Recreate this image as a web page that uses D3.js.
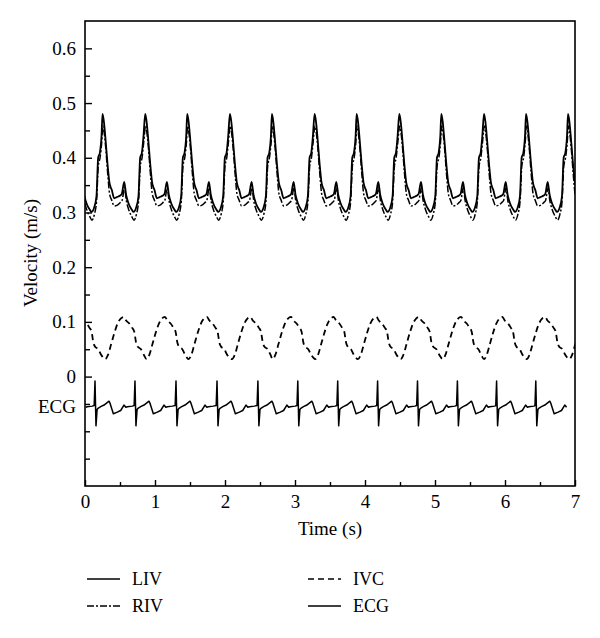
<!DOCTYPE html>
<html>
<head>
<meta charset="utf-8">
<script src="https://cdn.jsdelivr.net/npm/d3@7"></script>
<style>
  body { margin: 0; background: #fff; }
  svg { font-family: "Liberation Serif", "DejaVu Serif", serif; }
</style>
</head>
<body>
<div id="chart"></div>
<script>
// one beat of each trace: [seconds after the beat mark, value]
const livBeat = [
  [0.000, 0.480], [0.020, 0.466], [0.038, 0.442], [0.071, 0.390], [0.100, 0.354],
  [0.133, 0.341], [0.167, 0.326], [0.205, 0.328], [0.252, 0.331], [0.276, 0.334],
  [0.310, 0.356], [0.338, 0.332], [0.371, 0.317], [0.419, 0.305], [0.443, 0.301],
  [0.481, 0.309], [0.514, 0.330], [0.538, 0.400], [0.562, 0.409], [0.586, 0.440]
];
const rivBeat = [
  [0.005, 0.458], [0.025, 0.445], [0.045, 0.420], [0.075, 0.370], [0.100, 0.335],
  [0.133, 0.322], [0.167, 0.312], [0.205, 0.313], [0.252, 0.318], [0.280, 0.322],
  [0.315, 0.345], [0.340, 0.322], [0.375, 0.305], [0.420, 0.292], [0.450, 0.286],
  [0.485, 0.297], [0.515, 0.320], [0.540, 0.385], [0.565, 0.400], [0.590, 0.430]
];
const ivcBeat = [
  [0.000, 0.032], [0.040, 0.040], [0.081, 0.058], [0.130, 0.080], [0.176, 0.097],
  [0.220, 0.106], [0.262, 0.109], [0.300, 0.102], [0.343, 0.097], [0.380, 0.090],
  [0.414, 0.082], [0.440, 0.062], [0.462, 0.055], [0.510, 0.050], [0.550, 0.040]
];
const ecgBeat = [
  [-0.012, -0.053], [0.000, -0.008], [0.014, -0.090], [0.030, -0.060], [0.043, -0.058],
  [0.081, -0.055], [0.129, -0.052], [0.200, -0.045], [0.212, -0.048], [0.262, -0.068],
  [0.319, -0.065], [0.367, -0.062], [0.414, -0.052], [0.440, -0.056], [0.462, -0.055],
  [0.533, -0.054]
];

// beat marks (s): LIV/RIV peaks, IVC minima, ECG R waves
const livBeatTimes = [-0.35, 0.25, 0.86, 1.46, 2.07, 2.67, 3.28, 3.88, 4.49, 5.09, 5.70, 6.30, 6.90];
const ivcBeatTimes = [-0.32, 0.29, 0.88, 1.48, 2.10, 2.68, 3.29, 3.90, 4.51, 5.11, 5.70, 6.31, 6.92];
const ecgBeatTimes = [-0.43, 0.143, 0.714, 1.30, 1.886, 2.47, 3.04, 3.61, 4.18, 4.75, 5.32, 5.88, 6.44];

const xTicks = [0, 1, 2, 3, 4, 5, 6, 7];
const xMinorTicks = [0.5, 1.5, 2.5, 3.5, 4.5, 5.5, 6.5];
const yTicks = [0, 0.1, 0.2, 0.3, 0.4, 0.5, 0.6];
const yMinorTicks = [0.05, 0.15, 0.25, 0.35, 0.45, 0.55, -0.05, -0.1, -0.15];

const legendItems = [
  { name: "LIV", dash: null, col: 0, row: 0 },
  { name: "RIV", dash: "7,2,2,2", col: 0, row: 1 },
  { name: "IVC", dash: "6,4", col: 1, row: 0 },
  { name: "ECG", dash: null, col: 1, row: 1 }
];

const width = 600, height = 638;
const margin = { left: 85, right: 25, top: 21, bottom: 152 };
const fontSize = "19px";

const x = d3.scaleLinear().domain([0, 7]).range([margin.left, width - margin.right]);
const y = d3.scaleLinear().domain([-0.2, 0.65]).range([height - margin.bottom, margin.top]);

function tile(beat, times, t0, t1) {
  return times
    .flatMap((t) => beat.map(([p, v]) => [t + p, v]))
    .filter((d) => d[0] >= t0 && d[0] <= t1);
}

const series = [
  { name: "LIV", data: tile(livBeat, livBeatTimes, -0.2, 7.2), dash: null, w: 1.8 },
  { name: "RIV", data: tile(rivBeat, livBeatTimes, -0.2, 7.2), dash: "7,2,2,2", w: 1.5 },
  { name: "IVC", data: tile(ivcBeat, ivcBeatTimes, -0.2, 7.2), dash: "6,4", w: 1.8 },
  { name: "ECG", data: tile(ecgBeat, ecgBeatTimes, 0.01, 6.9), dash: null, w: 1.5 }
];

const svg = d3.select("#chart").append("svg")
  .attr("width", width)
  .attr("height", height);

svg.append("defs").append("clipPath").attr("id", "plot")
  .append("rect")
  .attr("x", x(0)).attr("y", y(0.65))
  .attr("width", x(7) - x(0)).attr("height", y(-0.2) - y(0.65));

const line = d3.line()
  .x((d) => x(d[0]))
  .y((d) => y(d[1]));

svg.append("g")
  .attr("clip-path", "url(#plot)")
  .attr("fill", "none")
  .attr("stroke", "#000")
  .selectAll("path")
  .data(series)
  .join("path")
  .attr("stroke-width", (d) => d.w)
  .attr("stroke-dasharray", (d) => d.dash)
  .attr("stroke-linejoin", "round")
  .attr("d", (d) => line.curve(d.name === "ECG" ? d3.curveLinear : d3.curveMonotoneX)(d.data));

// axes, ticks pointing inward
svg.append("g")
  .attr("transform", `translate(0,${y(-0.2)})`)
  .call(d3.axisBottom(x).tickValues(xTicks).tickSize(-6).tickPadding(9).tickFormat(d3.format("d")));
svg.append("g")
  .attr("transform", `translate(0,${y(-0.2)})`)
  .call(d3.axisBottom(x).tickValues(xMinorTicks).tickSize(-4).tickFormat(""));

svg.append("g")
  .attr("transform", `translate(${x(0)},0)`)
  .call(d3.axisLeft(y).tickValues(yTicks).tickSize(-7).tickPadding(9)
    .tickFormat((d) => (d === 0 ? "0" : d3.format(".1f")(d))));
svg.append("g")
  .attr("transform", `translate(${x(0)},0)`)
  .call(d3.axisLeft(y).tickValues(yMinorTicks).tickSize(-5).tickFormat(""));

svg.selectAll(".domain").remove();
svg.selectAll(".tick line").attr("stroke", "#000").attr("stroke-width", 1.4);
svg.selectAll(".tick text").attr("fill", "#000")
  .style("font-size", fontSize).style("font-family", "Liberation Serif");

// frame
svg.append("rect")
  .attr("x", x(0)).attr("y", y(0.65))
  .attr("width", x(7) - x(0)).attr("height", y(-0.2) - y(0.65))
  .attr("fill", "none")
  .attr("stroke", "#000")
  .attr("stroke-width", 1.6);

svg.append("text")
  .attr("x", x(0) - 9)
  .attr("y", y(-0.05))
  .attr("dy", "0.5em")
  .attr("text-anchor", "end")
  .style("font-size", fontSize)
  .text("ECG");

svg.append("text")
  .attr("transform", "translate(37,253) rotate(-90)")
  .attr("text-anchor", "middle")
  .style("font-size", fontSize)
  .text("Velocity (m/s)");

svg.append("text")
  .attr("x", (x(0) + x(7)) / 2)
  .attr("y", 535)
  .attr("text-anchor", "middle")
  .style("font-size", fontSize)
  .text("Time (s)");

// legend
const legend = svg.append("g")
  .selectAll("g")
  .data(legendItems)
  .join("g")
  .attr("transform", (d) => `translate(${87 + d.col * 221},${579 + d.row * 27})`);

legend.append("line")
  .attr("x1", 0).attr("x2", 33)
  .attr("stroke", "#000")
  .attr("stroke-width", 1.6)
  .attr("stroke-dasharray", (d) => d.dash);

legend.append("text")
  .attr("x", 45)
  .attr("dy", "0.35em")
  .style("font-size", "18px")
  .text((d) => d.name);
</script>
</body>
</html>
